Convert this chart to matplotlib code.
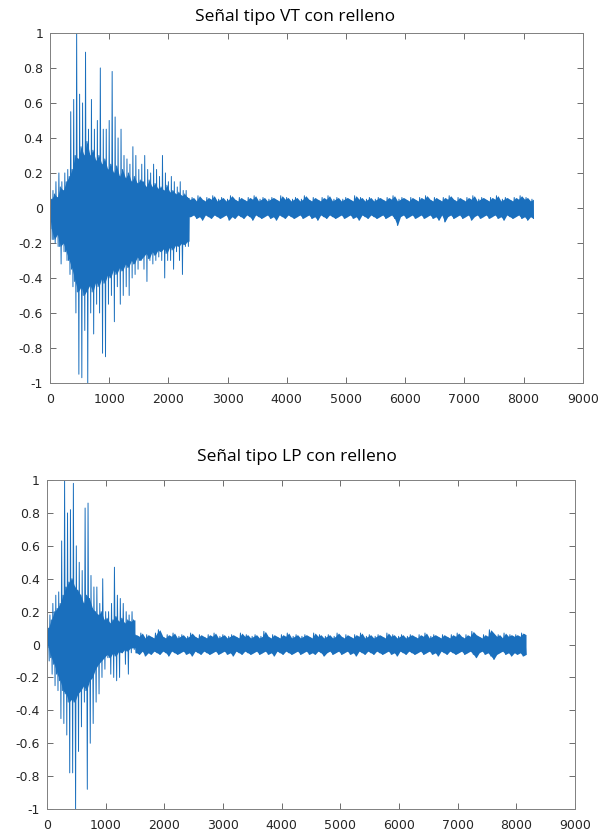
import numpy as np
import matplotlib.pyplot as plt

# Every 50-sample window of a trace: outer peak / trough, plus the dense inner band (core)
vt_burst_peak = [0.08, 0.10, 0.15, 0.20, 0.15, 0.20, 0.22, 0.55, 0.62, 1.00,
                 0.65, 0.60, 0.89, 0.45, 0.62, 0.45, 0.50, 0.80, 0.45, 0.45,
                 0.50, 0.78, 0.52, 0.40, 0.45, 0.30, 0.28, 0.25, 0.35, 0.30,
                 0.22, 0.25, 0.30, 0.22, 0.20, 0.25, 0.22, 0.18, 0.30, 0.20,
                 0.15, 0.18, 0.15, 0.12, 0.15, 0.10, 0.10]
vt_burst_trough = [-0.18, -0.20, -0.22, -0.32, -0.25, -0.30, -0.38, -0.45, -0.60, -0.95,
                   -0.97, -0.70, -1.00, -0.60, -0.72, -0.55, -0.60, -0.83, -0.85, -0.55,
                   -0.50, -0.65, -0.45, -0.55, -0.50, -0.45, -0.50, -0.40, -0.38, -0.35,
                   -0.30, -0.35, -0.42, -0.30, -0.32, -0.30, -0.28, -0.30, -0.40, -0.30,
                   -0.30, -0.35, -0.25, -0.30, -0.38, -0.22, -0.22]
vt_core_hi = [0.05, 0.08, 0.06, 0.12, 0.10, 0.15, 0.18, 0.22, 0.30, 0.28,
              0.35, 0.30, 0.38, 0.30, 0.33, 0.27, 0.30, 0.25, 0.28, 0.22,
              0.25, 0.20, 0.24, 0.18, 0.22, 0.17, 0.20, 0.15, 0.18, 0.14,
              0.16, 0.15, 0.12, 0.16, 0.12, 0.14, 0.11, 0.12, 0.10, 0.13,
              0.09, 0.10, 0.08, 0.09, 0.07, 0.08, 0.06]
vt_core_lo = [-0.12, -0.18, -0.15, -0.22, -0.20, -0.25, -0.30, -0.35, -0.42, -0.48,
              -0.45, -0.50, -0.47, -0.44, -0.48, -0.42, -0.45, -0.40, -0.43, -0.38,
              -0.40, -0.35, -0.38, -0.34, -0.36, -0.32, -0.34, -0.30, -0.32, -0.28,
              -0.30, -0.28, -0.26, -0.29, -0.25, -0.27, -0.24, -0.25, -0.23, -0.26,
              -0.22, -0.24, -0.21, -0.22, -0.20, -0.21, -0.19]
vt_tail_peak = [0.05, 0.06, 0.04, 0.07, 0.05, 0.04, 0.06, 0.05, 0.07, 0.04,
                0.05, 0.06, 0.04, 0.05, 0.07, 0.05, 0.04, 0.06, 0.05, 0.04,
                0.06, 0.05, 0.07, 0.04, 0.05, 0.06, 0.04, 0.05, 0.06, 0.05,
                0.04, 0.07, 0.05, 0.06, 0.04, 0.05, 0.06, 0.04, 0.05, 0.07,
                0.05, 0.04, 0.06, 0.05, 0.04, 0.06, 0.05, 0.07, 0.04, 0.05,
                0.06, 0.04, 0.05, 0.06, 0.05, 0.04, 0.07, 0.05, 0.06, 0.04,
                0.05, 0.06, 0.04, 0.05, 0.06, 0.05, 0.04, 0.06, 0.05, 0.07,
                0.04, 0.05, 0.06, 0.05, 0.04, 0.06, 0.05, 0.04, 0.06, 0.05,
                0.07, 0.05, 0.04, 0.06, 0.05, 0.04, 0.06, 0.05, 0.07, 0.05,
                0.04, 0.06, 0.05, 0.04, 0.06, 0.05, 0.07, 0.04, 0.05, 0.06,
                0.05, 0.04, 0.06, 0.05, 0.07, 0.04, 0.05, 0.06, 0.05, 0.04,
                0.06, 0.05, 0.07, 0.05, 0.06, 0.04, 0.05]
vt_tail_trough = [-0.05, -0.04, -0.06, -0.05, -0.07, -0.04, -0.05, -0.06, -0.04, -0.05,
                  -0.06, -0.05, -0.04, -0.07, -0.05, -0.06, -0.04, -0.05, -0.06, -0.04,
                  -0.05, -0.07, -0.04, -0.05, -0.06, -0.05, -0.04, -0.06, -0.05, -0.07,
                  -0.04, -0.05, -0.06, -0.04, -0.05, -0.06, -0.05, -0.04, -0.06, -0.05,
                  -0.04, -0.06, -0.05, -0.07, -0.04, -0.05, -0.06, -0.04, -0.05, -0.06,
                  -0.05, -0.04, -0.06, -0.05, -0.04, -0.06, -0.05, -0.07, -0.04, -0.05,
                  -0.06, -0.04, -0.05, -0.06, -0.05, -0.04, -0.06, -0.05, -0.04, -0.06,
                  -0.10, -0.05, -0.04, -0.06, -0.05, -0.04, -0.06, -0.05, -0.04, -0.06,
                  -0.05, -0.04, -0.06, -0.05, -0.07, -0.04, -0.08, -0.05, -0.04, -0.06,
                  -0.05, -0.04, -0.06, -0.05, -0.04, -0.07, -0.05, -0.04, -0.06, -0.05,
                  -0.04, -0.06, -0.05, -0.04, -0.06, -0.05, -0.07, -0.04, -0.05, -0.06,
                  -0.05, -0.04, -0.06, -0.05, -0.07, -0.05, -0.06]

lp_burst_peak = [0.15, 0.18, 0.25, 0.30, 0.32, 0.63, 1.00, 0.80, 0.82, 0.98,
                 0.60, 0.50, 0.45, 0.83, 0.86, 0.42, 0.35, 0.35, 0.25, 0.40,
                 0.20, 0.20, 0.25, 0.47, 0.30, 0.28, 0.25, 0.20, 0.18, 0.20]
lp_burst_trough = [-0.10, -0.18, -0.25, -0.28, -0.45, -0.48, -0.55, -0.78, -0.78, -1.00,
                   -0.65, -0.50, -0.35, -0.88, -0.60, -0.48, -0.35, -0.30, -0.20, -0.15,
                   -0.08, -0.18, -0.20, -0.22, -0.20, -0.05, -0.12, -0.18, -0.05, -0.03]
lp_core_hi = [0.10, 0.15, 0.20, 0.22, 0.25, 0.30, 0.35, 0.38, 0.40, 0.35,
              0.33, 0.30, 0.25, 0.30, 0.28, 0.22, 0.20, 0.18, 0.20, 0.15,
              0.16, 0.13, 0.15, 0.17, 0.14, 0.16, 0.13, 0.15, 0.14, 0.15]
lp_core_lo = [-0.02, -0.08, -0.12, -0.18, -0.22, -0.28, -0.30, -0.35, -0.33, -0.35,
              -0.30, -0.28, -0.25, -0.28, -0.22, -0.20, -0.15, -0.12, -0.10, -0.08,
              -0.06, -0.08, -0.05, -0.07, -0.04, -0.05, -0.03, -0.04, -0.02, -0.02]
lp_tail_peak = [0.06, 0.05, 0.07, 0.04, 0.06, 0.05, 0.04, 0.07, 0.09, 0.05,
                0.04, 0.06, 0.05, 0.07, 0.04, 0.05, 0.06, 0.04, 0.05, 0.07,
                0.05, 0.04, 0.06, 0.05, 0.04, 0.06, 0.05, 0.07, 0.04, 0.05,
                0.06, 0.04, 0.05, 0.06, 0.05, 0.04, 0.07, 0.05, 0.06, 0.04,
                0.05, 0.06, 0.04, 0.05, 0.08, 0.05, 0.04, 0.06, 0.05, 0.04,
                0.06, 0.05, 0.07, 0.04, 0.05, 0.06, 0.04, 0.05, 0.06, 0.05,
                0.04, 0.07, 0.05, 0.06, 0.04, 0.05, 0.06, 0.04, 0.05, 0.07,
                0.05, 0.04, 0.06, 0.05, 0.04, 0.06, 0.05, 0.07, 0.04, 0.05,
                0.06, 0.04, 0.05, 0.06, 0.05, 0.04, 0.07, 0.05, 0.06, 0.04,
                0.05, 0.06, 0.04, 0.05, 0.06, 0.05, 0.04, 0.06, 0.05, 0.07,
                0.04, 0.05, 0.06, 0.05, 0.04, 0.06, 0.05, 0.04, 0.06, 0.05,
                0.07, 0.05, 0.04, 0.06, 0.05, 0.08, 0.06, 0.05, 0.04, 0.06,
                0.05, 0.09, 0.07, 0.05, 0.06, 0.04, 0.07, 0.05, 0.06, 0.05,
                0.06, 0.05, 0.07, 0.06]
lp_tail_trough = [-0.05, -0.06, -0.04, -0.07, -0.05, -0.06, -0.04, -0.05, -0.06, -0.04,
                  -0.05, -0.07, -0.04, -0.05, -0.06, -0.05, -0.04, -0.06, -0.05, -0.07,
                  -0.04, -0.05, -0.06, -0.04, -0.05, -0.06, -0.05, -0.04, -0.06, -0.05,
                  -0.04, -0.06, -0.05, -0.07, -0.04, -0.05, -0.06, -0.04, -0.05, -0.06,
                  -0.05, -0.04, -0.06, -0.05, -0.04, -0.06, -0.05, -0.07, -0.04, -0.05,
                  -0.06, -0.04, -0.05, -0.06, -0.05, -0.04, -0.06, -0.05, -0.04, -0.06,
                  -0.05, -0.06, -0.04, -0.05, -0.07, -0.05, -0.04, -0.06, -0.05, -0.04,
                  -0.06, -0.05, -0.04, -0.06, -0.05, -0.07, -0.04, -0.05, -0.06, -0.04,
                  -0.05, -0.06, -0.04, -0.05, -0.06, -0.05, -0.04, -0.06, -0.05, -0.07,
                  -0.04, -0.05, -0.06, -0.04, -0.05, -0.06, -0.05, -0.04, -0.06, -0.05,
                  -0.04, -0.06, -0.05, -0.07, -0.04, -0.05, -0.06, -0.04, -0.05, -0.06,
                  -0.05, -0.04, -0.06, -0.05, -0.04, -0.06, -0.08, -0.05, -0.04, -0.06,
                  -0.05, -0.07, -0.09, -0.06, -0.05, -0.04, -0.06, -0.05, -0.07, -0.05,
                  -0.06, -0.05, -0.07, -0.06]

n_samples = 8192
win = 50
titles = ['Señal tipo VT con relleno', 'Señal tipo LP con relleno']
xticks = np.arange(0, 9001, 1000)
yticks = np.linspace(-1, 1, 11)
ytick_labels = ['-1', '-0.8', '-0.6', '-0.4', '-0.2', '0', '0.2', '0.4', '0.6', '0.8', '1']
line_color = '#1a6fbd'


def trace(burst_hi, burst_lo, core_hi, core_lo, tail_hi, tail_lo):
    """Rebuild the padded trace: an oscillating line through the window extremes,
    plus the band it fills where the oscillation is too dense to resolve."""
    b_start = np.arange(len(burst_hi)) * win
    burst_end = len(burst_hi) * win
    edges = np.linspace(burst_end, n_samples, len(tail_hi) + 1)
    t_start, t_w = edges[:-1], edges[1] - edges[0]
    bx = np.column_stack([b_start, b_start + win / 4, b_start + win / 2, b_start + 3 * win / 4])
    by = np.column_stack([burst_hi, core_lo, core_hi, burst_lo])
    tx = np.column_stack([t_start, t_start + t_w / 2])
    ty = np.column_stack([tail_hi, tail_lo])
    line_x = np.concatenate([bx.ravel(), tx.ravel()])
    line_y = np.concatenate([by.ravel(), ty.ravel()])
    # the event band stops abruptly where the zero-padding starts
    band_x = np.concatenate([b_start + win / 2, [burst_end - 1, burst_end], t_start + t_w / 2])
    band_hi = np.concatenate([core_hi, [core_hi[-1], tail_hi[0]], tail_hi])
    band_lo = np.concatenate([core_lo, [core_lo[-1], tail_lo[0]], tail_lo])
    return line_x, line_y, band_x, band_hi, band_lo


fig = plt.figure(figsize=(6.04, 8.32), dpi=100)
ax_vt = fig.add_axes([0.0828, 0.5397, 0.882, 0.4207])
ax_lp = fig.add_axes([0.0778, 0.0276, 0.874, 0.3954])

signals = [(vt_burst_peak, vt_burst_trough, vt_core_hi, vt_core_lo, vt_tail_peak, vt_tail_trough),
           (lp_burst_peak, lp_burst_trough, lp_core_hi, lp_core_lo, lp_tail_peak, lp_tail_trough)]

for ax, sig in zip([ax_vt, ax_lp], signals):
    x, y, bx, bhi, blo = trace(*sig)
    ax.fill_between(bx, bhi, blo, color=line_color, linewidth=0)
    ax.plot(x, y, color=line_color, linewidth=0.7)
    ax.set_xlim(0, 9000)
    ax.set_ylim(-1, 1)
    ax.set_xticks(xticks)
    ax.set_yticks(yticks)
    ax.set_yticklabels(ytick_labels)
    ax.tick_params(direction='in', top=True, right=True, length=4, width=0.6,
                   color='#555555', labelsize=9, labelcolor='#262626')
    ax.tick_params(axis='x', pad=7)
    ax.tick_params(axis='y', pad=5)
    for sp in ax.spines.values():
        sp.set_color('#808080')
        sp.set_linewidth(0.7)

fig.text(295 / 604, 1 - 17 / 832, titles[0], ha='center', va='center',
         fontsize=12.5, family='Open Sans')
fig.text(297 / 604, 1 - 457 / 832, titles[1], ha='center', va='center',
         fontsize=12.5, family='Open Sans')

fig.savefig('out.png', dpi=100)
